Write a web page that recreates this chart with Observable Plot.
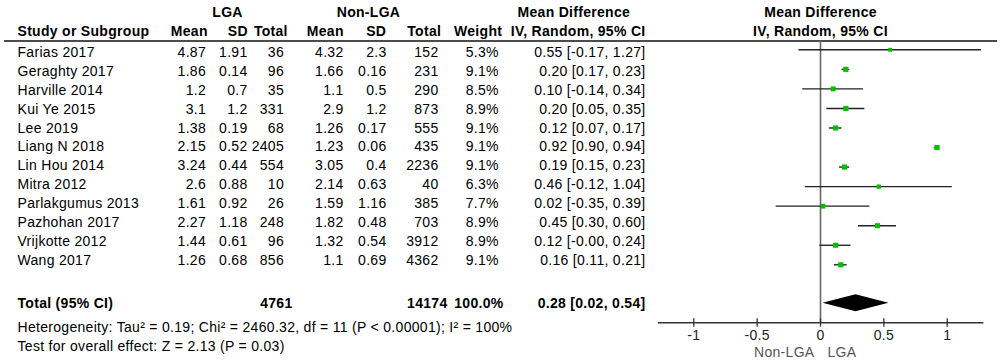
<!DOCTYPE html>
<html><head><meta charset="utf-8">
<script src="https://cdn.jsdelivr.net/npm/d3@7"></script>
<script src="https://cdn.jsdelivr.net/npm/@observablehq/plot@0.6"></script>
<style>
html,body{margin:0;padding:0;background:#fff;}
#chart{position:relative;width:1000px;height:364px;overflow:hidden;}
#chart svg{position:absolute;left:0;top:0;}
</style></head><body><div id="chart"></div>
<script>
// ---- data ----
const studies = ["Farias 2017","Geraghty 2017","Harville 2014","Kui Ye 2015","Lee 2019","Liang N 2018","Lin Hou 2014","Mitra 2012","Parlakgumus 2013","Pazhohan 2017","Vrijkotte 2012","Wang 2017"];
const lgaMean  = [4.87,1.86,1.2,3.1,1.38,2.15,3.24,2.6,1.61,2.27,1.44,1.26];
const lgaSD    = [1.91,0.14,0.7,1.2,0.19,0.52,0.44,0.88,0.92,1.18,0.61,0.68];
const lgaTotal = [36,96,35,331,68,2405,554,10,26,248,96,856];
const nonMean  = [4.32,1.66,1.1,2.9,1.26,1.23,3.05,2.14,1.59,1.82,1.32,1.1];
const nonSD    = [2.3,0.16,0.5,1.2,0.17,0.06,0.4,0.63,1.16,0.48,0.54,0.69];
const nonTotal = [152,231,290,873,555,435,2236,40,385,703,3912,4362];
const weight   = [5.3,9.1,8.5,8.9,9.1,9.1,9.1,6.3,7.7,8.9,8.9,9.1];
const md       = [0.55,0.20,0.10,0.20,0.12,0.92,0.19,0.46,0.02,0.45,0.12,0.16];
const ciLow    = [-0.17,0.17,-0.14,0.05,0.07,0.90,0.15,-0.12,-0.35,0.30,-0.004,0.11];
const ciHigh   = [1.27,0.23,0.34,0.35,0.17,0.94,0.23,1.04,0.39,0.60,0.24,0.21];
const totalLabel = "Total (95% CI)";
const totalLGA = 4761, totalNon = 14174, totalWeight = 100.0;
const totalMD = 0.28, totalLow = 0.02, totalHigh = 0.54;
const heterogeneity = "Heterogeneity: Tau\u00b2 = 0.19; Chi\u00b2 = 2460.32, df = 11 (P < 0.00001); I\u00b2 = 100%";
const overallEffect = "Test for overall effect: Z = 2.13 (P = 0.03)";
const tickValues = [-1,-0.5,0,0.5,1];
const axisExtent = [-1.28, 1.29];
const favoursLeft = "Non-LGA", favoursRight = "LGA";

// ---- layout (pixels / row units) ----
const FONT = 'Arial, "Liberation Sans", sans-serif';
const FS = 14;
const LS = "0.3px";
const W = 1000, H = 364;
const tableMarginLeft = 4, tableMarginRight = 3;
const tableRows = {domain:[0,11], range:[52,259.9]};
const tRow = {head1:-2.09, head2:-1.11, line:-0.608, total:13.27, het:14.55, test:15.58};
const graphRows = {domain:[0,11], range:[49.3,264.3]};
const gRow = {head1:-1.883, head2:-0.936, zeroTop:-0.45, total:12.965, diamondHalf:0.435,
              axis:13.968, tickTop:13.763, tickBottom:14.19, tickLabel:14.643, favours:15.487};
const graphX = {domain:[-1,1], range:[693.3,946.7]};

const fmt2 = v => v.toFixed(2);
const ciText = (m,l,h) => `${fmt2(m)} [${fmt2(l)}, ${fmt2(h)}]`;

const rows = studies.map((s,i)=>({
  i, study:s,
  m1:String(lgaMean[i]), s1:String(lgaSD[i]), n1:String(lgaTotal[i]),
  m2:String(nonMean[i]), s2:String(nonSD[i]), n2:String(nonTotal[i]),
  w:weight[i], wt:weight[i].toFixed(1)+"%",
  md:md[i], lo:ciLow[i], hi:ciHigh[i], ci:ciText(md[i],ciLow[i],ciHigh[i])
}));

// column right edges / left edge
const cols = [
  {key:"study", x:17, anchor:"start"},
  {key:"m1", x:205.5, anchor:"end"},
  {key:"s1", x:247, anchor:"end"},
  {key:"n1", x:283.5, anchor:"end"},
  {key:"m2", x:343, anchor:"end"},
  {key:"s2", x:386, anchor:"end"},
  {key:"n2", x:438, anchor:"end"},
  {key:"wt", x:498.3, anchor:"end"},
  {key:"ci", x:645, anchor:"end"}
];
const headers2 = [
  {t:"Study or Subgroup", x:17, anchor:"start"},
  {t:"Mean", x:207.3, anchor:"end"},
  {t:"SD", x:247.3, anchor:"end"},
  {t:"Total", x:287.3, anchor:"end"},
  {t:"Mean", x:343.3, anchor:"end"},
  {t:"SD", x:385.7, anchor:"end"},
  {t:"Total", x:440.7, anchor:"end"},
  {t:"Weight", x:501.7, anchor:"end"},
  {t:"IV, Random, 95% CI", x:645, anchor:"end"}
];
const headers1 = [
  {t:"LGA", x:227, anchor:"middle"},
  {t:"Non-LGA", x:368, anchor:"middle"},
  {t:"Mean Difference", x:517, anchor:"start"}
];
const totalsRow = [
  {t:totalLabel, x:17, anchor:"start"},
  {t:String(totalLGA), x:292, anchor:"end"},
  {t:String(totalNon), x:447, anchor:"end"},
  {t:totalWeight.toFixed(1)+"%", x:503, anchor:"end"},
  {t:ciText(totalMD,totalLow,totalHigh), x:645, anchor:"end"}
];

const txt = (data, yRow, opts={}) => data.map(d => Plot.text([d], {
  frameAnchor:"left", dx:d.x - tableMarginLeft, y:()=>yRow, text:()=>d.t,
  textAnchor:d.anchor, fill:"#000", fontSize:FS, ...opts
}));

const table = Plot.plot({
  width:W, height:H, marginLeft:tableMarginLeft, marginRight:tableMarginRight, marginTop:0, marginBottom:0,
  style:{fontFamily:FONT, fontSize:FS+"px", letterSpacing:LS, background:"transparent", color:"#000"},
  y:{domain:tableRows.domain, range:tableRows.range, axis:null},
  marks:[
    Plot.ruleY([tRow.line], {y:d=>d, stroke:"#111", strokeWidth:1.5}),
    ...txt(headers1, tRow.head1, {fontWeight:"bold"}),
    ...txt(headers2, tRow.head2, {fontWeight:"bold"}),
    ...cols.map(c => Plot.text(rows, {frameAnchor:"left", dx:c.x - tableMarginLeft, y:"i", text:c.key,
      textAnchor:c.anchor, fill:"#000", fontSize:FS})),
    ...txt(totalsRow, tRow.total, {fontWeight:"bold"}),
    ...txt([{t:heterogeneity, x:17, anchor:"start"}], tRow.het),
    ...txt([{t:overallEffect, x:17, anchor:"start"}], tRow.test)
  ]
});

const diamond = [
  {y:gRow.total - gRow.diamondHalf, x1:totalMD, x2:totalMD},
  {y:gRow.total, x1:totalLow, x2:totalHigh},
  {y:gRow.total + gRow.diamondHalf, x1:totalMD, x2:totalMD}
];

const graph = Plot.plot({
  width:W, height:H, margin:0,
  style:{fontFamily:FONT, fontSize:FS+"px", letterSpacing:LS, background:"transparent", color:"#000"},
  x:{domain:graphX.domain, range:graphX.range, axis:null},
  y:{domain:graphRows.domain, range:graphRows.range, axis:null},
  r:{range:[0,2.9]},
  marks:[
    Plot.ruleX([0], {x:d=>d, y1:gRow.zeroTop, y2:gRow.axis, stroke:"#666", strokeWidth:1.6}),
    Plot.ruleY(rows, {y:"i", x1:"lo", x2:"hi", stroke:"#222", strokeWidth:1.4}),
    Plot.dot(rows, {x:"md", y:"i", r:"w", symbol:"square", fill:"#00c000", stroke:"none"}),
    Plot.areaX(diamond, {y:"y", x1:"x1", x2:"x2", fill:"#000", curve:"linear"}),
    Plot.ruleY([gRow.axis], {y:d=>d, x1:axisExtent[0], x2:axisExtent[1], stroke:"#333", strokeWidth:1.5}),
    Plot.ruleX(tickValues, {x:d=>d, y1:gRow.tickTop, y2:gRow.tickBottom, stroke:"#333", strokeWidth:1.3}),
    Plot.text(tickValues, {x:d=>d, y:()=>gRow.tickLabel, text:d=>String(d), fill:"#222", fontSize:FS}),
    Plot.text([favoursLeft], {x:()=>0, y:()=>gRow.favours, text:d=>d, textAnchor:"end", dx:-6, fill:"#555", fontSize:FS}),
    Plot.text([favoursRight], {x:()=>0, y:()=>gRow.favours, text:d=>d, textAnchor:"start", dx:7, fill:"#555", fontSize:FS}),
    Plot.text(["Mean Difference"], {x:()=>0, y:()=>gRow.head1, text:d=>d, fontWeight:"bold", fill:"#000", fontSize:FS}),
    Plot.text(["IV, Random, 95% CI"], {x:()=>0, y:()=>gRow.head2, text:d=>d, fontWeight:"bold", fill:"#000", fontSize:FS})
  ]
});

const el = document.getElementById("chart");
el.append(table, graph);
</script></body></html>
